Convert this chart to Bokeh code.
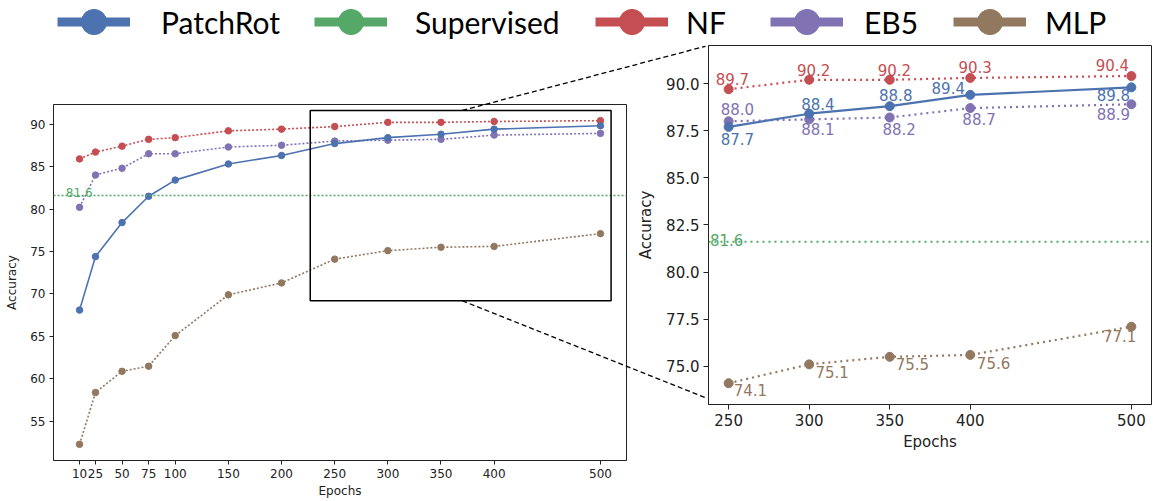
from bokeh.plotting import figure
from bokeh.layouts import column, row
from bokeh.models import (Range1d, FixedTicker, Span, BoxAnnotation, Legend,
                          LegendItem, NumeralTickFormatter)
from bokeh.core.properties import value
from bokeh.embed import file_html
from bokeh.resources import INLINE

# ---------------- data ----------------
epochs = [10, 25, 50, 75, 100, 150, 200, 250, 300, 350, 400, 500]
patchrot = [68.1, 74.4, 78.4, 81.5, 83.4, 85.3, 86.3, 87.7, 88.4, 88.8, 89.4, 89.8]
supervised = 81.6
nf = [85.9, 86.7, 87.4, 88.2, 88.4, 89.2, 89.4, 89.7, 90.2, 90.2, 90.3, 90.4]
eb5 = [80.2, 84.0, 84.8, 86.5, 86.5, 87.3, 87.5, 88.0, 88.1, 88.2, 88.7, 88.9]
mlp = [52.3, 58.4, 60.9, 61.5, 65.1, 69.9, 71.3, 74.1, 75.1, 75.5, 75.6, 77.1]
zoom_start = 250
left_y_ticks = [55, 60, 65, 70, 75, 80, 85, 90]
right_x_ticks = [250, 300, 350, 400, 500]
right_y_ticks = [75.0, 77.5, 80.0, 82.5, 85.0, 87.5, 90.0]
legend_names = ["PatchRot", "Supervised", "NF", "EB5", "MLP"]

# ---------------- styles ----------------
colors = {"PatchRot": "#4C72B0", "Supervised": "#55A868", "NF": "#C44E52",
          "EB5": "#8172B3", "MLP": "#937860"}
series = {"PatchRot": patchrot, "NF": nf, "EB5": eb5, "MLP": mlp,
          "Supervised": [supervised] * len(epochs)}
dashes = {"PatchRot": "solid", "NF": "dotted", "EB5": "dotted", "MLP": "dotted"}
draw_order = ["NF", "EB5", "MLP", "PatchRot"]
FONT = "DejaVu Sans"
LEG_FONT = "Lato"
AX = "#222222"

# label offsets in the zoomed panel (screen px, +y = down)
label_offsets = {
    "NF": [(3.7, -10.3), (4.4, -10), (4.6, -10), (4.9, -11), (-19, -11)],
    "PatchRot": [(8.7, 12), (8.7, -9.6), (6, -11), (-22, -6.6), (-18, 8)],
    "EB5": [(8.7, -12.3), (8.7, 10), (9.4, 11.8), (8.8, 10.5), (-18, 10)],
    "MLP": [(21.7, 7), (22.9, 7.7), (22.7, 6.8), (23.3, 7.7), (-11.7, 9)],
}

# ---------------- layout ----------------
W, H, LEG_H, SPLIT = 1159, 501, 40, 634
LF = dict(x0=53, x1=626, y0=104, y1=460)      # left frame, window px
RF = dict(x0=705, x1=1151, y0=45, y1=404)     # right frame, window px
left_x = (-14.5, 524.5)
left_y = (50.4, 92.3)
right_x = (237.5, 512.5)
right_y = (72.97, 92.02)
inset_box = dict(left=227, right=510, bottom=69.2, top=91.6)
conn_x = 370            # where the connectors leave the inset box (left data x)
conn_right_y = (91.98, 73.33)   # where they reach the zoomed panel's left edge


def l_sx(x): return LF["x0"] + (x - left_x[0]) / (left_x[1] - left_x[0]) * (LF["x1"] - LF["x0"])
def l_sy(y): return LF["y1"] - (y - left_y[0]) / (left_y[1] - left_y[0]) * (LF["y1"] - LF["y0"])
def r_sx(x): return RF["x0"] + (x - right_x[0]) / (right_x[1] - right_x[0]) * (RF["x1"] - RF["x0"])
def r_sy(y): return RF["y1"] - (y - right_y[0]) / (right_y[1] - right_y[0]) * (RF["y1"] - RF["y0"])


def style(p, fs, tick_out, lab_sd, ax_sd_x, ax_sd_y):
    p.xgrid.visible = False
    p.ygrid.visible = False
    p.outline_line_color = AX
    p.outline_line_width = 1
    p.background_fill_color = "white"
    p.border_fill_color = "white"
    for ax in (p.xaxis, p.yaxis):
        ax.axis_line_color = AX
        ax.major_tick_line_color = AX
        ax.minor_tick_line_color = None
        ax.major_tick_in = 0
        ax.major_tick_out = tick_out
        ax.major_label_standoff = lab_sd
        ax.major_label_text_font = FONT
        ax.major_label_text_font_size = fs
        ax.major_label_text_color = AX
        ax.axis_label_text_font = FONT
        ax.axis_label_text_font_size = fs
        ax.axis_label_text_font_style = "normal"
        ax.axis_label_text_color = AX
    p.xaxis.axis_label_standoff = ax_sd_x
    p.yaxis.axis_label_standoff = ax_sd_y
    p.xaxis.axis_label = "Epochs"
    p.yaxis.axis_label = "Accuracy"


# ---------------- legend strip ----------------
p0 = figure(width=W, height=LEG_H, x_range=Range1d(0, 1), y_range=Range1d(0, 1),
            x_axis_location=None, y_axis_location=None, min_border=0,
            toolbar_location=None, output_backend="svg", frame_align=False)
p0.outline_line_color = None
p0.grid.visible = False
leg_x = [57, 314, 595, 770, 953]
leg_sd = [31, 28, 18, 21, 19]
for name, lx, sd in zip(legend_names, leg_x, leg_sd):
    c = colors[name]
    # the series itself, outside this strip's visible range: only its legend glyph shows
    rl = p0.line(epochs, series[name], line_color=c, line_width=9)
    rs = p0.scatter(epochs, series[name], size=25, fill_color=c, line_color=c)
    leg = Legend(items=[LegendItem(label=name, renderers=[rl, rs])],
                 location=(lx, (LEG_H - 21.7) - 31.5), orientation="horizontal",
                 glyph_width=73, glyph_height=63, label_standoff=sd, padding=0, margin=0,
                 spacing=0, border_line_color=None, background_fill_alpha=0,
                 label_text_font=LEG_FONT, label_text_font_size="30px",
                 label_text_color="black")
    p0.add_layout(leg)

# ---------------- left (full) panel ----------------
p1 = figure(width=SPLIT, height=H - LEG_H, x_range=Range1d(*left_x), y_range=Range1d(*left_y),
            min_border_left=LF["x0"], min_border_right=SPLIT - LF["x1"],
            min_border_top=LF["y0"] - LEG_H, min_border_bottom=H - LF["y1"],
            toolbar_location=None, output_backend="svg", frame_align=False)
style(p1, "12px", 4, 4, 3, 8)
p1.xaxis.ticker = FixedTicker(ticks=epochs)
p1.yaxis.ticker = FixedTicker(ticks=left_y_ticks)

p1.add_layout(Span(location=supervised, dimension="width", line_color=colors["Supervised"],
                   line_width=1.5, line_dash="2 2"))
for name in draw_order:
    c = colors[name]
    p1.line(epochs, series[name], line_color=c, line_width=1.6,
            line_dash="solid" if dashes[name] == "solid" else "2 2")
    p1.scatter(epochs, series[name], size=6.5, fill_color=c, line_color=c)
p1.text(x=[epochs[0]], y=[supervised], text=[f"{supervised:.1f}"], x_offset=-13.7, y_offset=-3.2,
        text_align="left", text_baseline="alphabetic", text_font=value(FONT),
        text_font_size="12px", text_color=colors["Supervised"])

p1.add_layout(BoxAnnotation(left=inset_box["left"], right=inset_box["right"],
                            bottom=inset_box["bottom"], top=inset_box["top"],
                            fill_alpha=0, fill_color=None, line_color="black",
                            line_alpha=1, line_width=1.5))

# ---------------- right (zoomed) panel ----------------
p2 = figure(width=W - SPLIT, height=H - LEG_H, x_range=Range1d(*right_x), y_range=Range1d(*right_y),
            min_border_left=RF["x0"] - SPLIT, min_border_right=W - RF["x1"],
            min_border_top=RF["y0"] - LEG_H, min_border_bottom=H - RF["y1"],
            toolbar_location=None, output_backend="svg", frame_align=False)
style(p2, "15px", 5, 4, 4, 8)
p2.xaxis.ticker = FixedTicker(ticks=right_x_ticks)
p2.yaxis.ticker = FixedTicker(ticks=right_y_ticks)
p2.yaxis.formatter = NumeralTickFormatter(format="0.0")

p2.add_layout(Span(location=supervised, dimension="width", line_color=colors["Supervised"],
                   line_width=2, line_dash="2 4"))
idx = [i for i, e in enumerate(epochs) if e >= zoom_start]
zx = [epochs[i] for i in idx]
for name in draw_order:
    c = colors[name]
    zy = [series[name][i] for i in idx]
    p2.line(zx, zy, line_color=c, line_width=2.2,
            line_dash="solid" if dashes[name] == "solid" else "2 4")
    p2.scatter(zx, zy, size=9, fill_color=c, line_color=c)
for name in ["NF", "PatchRot", "EB5", "MLP"]:
    zy = [series[name][i] for i in idx]
    offs = label_offsets[name]
    p2.text(x=zx, y=zy, text=[f"{v:.1f}" for v in zy],
            x_offset=[o[0] for o in offs], y_offset=[o[1] for o in offs],
            text_align="center", text_baseline="middle", text_font=value(FONT),
            text_font_size="15px", text_color=colors[name])
p2.text(x=[zx[0]], y=[supervised], text=[f"{supervised:.1f}"], x_offset=-18.7, y_offset=-2.3,
        text_align="left", text_baseline="alphabetic", text_font=value(FONT),
        text_font_size="15px", text_color=colors["Supervised"])

# ---------------- transparent overlay for the zoom connectors ----------------
po = figure(width=W, height=H, x_range=Range1d(0, W), y_range=Range1d(H, 0),
            x_axis_location=None, y_axis_location=None, min_border=0,
            toolbar_location=None, output_backend="svg", frame_align=False,
            styles={"position": "absolute", "top": "0px", "left": "0px",
                    "pointer-events": "none"})
po.outline_line_color = None
po.grid.visible = False
po.background_fill_color = None
po.border_fill_color = None
po.segment(x0=[l_sx(conn_x), l_sx(conn_x)],
           y0=[l_sy(inset_box["top"]), l_sy(inset_box["bottom"])],
           x1=[r_sx(right_x[0]), r_sx(right_x[0])],
           y1=[r_sy(conn_right_y[0]), r_sy(conn_right_y[1])],
           line_color="black", line_width=1.3, line_dash="5 3")

layout = column(p0, row(p1, p2, spacing=0), spacing=0)
open("out.html", "w").write(file_html([layout, po], INLINE))
